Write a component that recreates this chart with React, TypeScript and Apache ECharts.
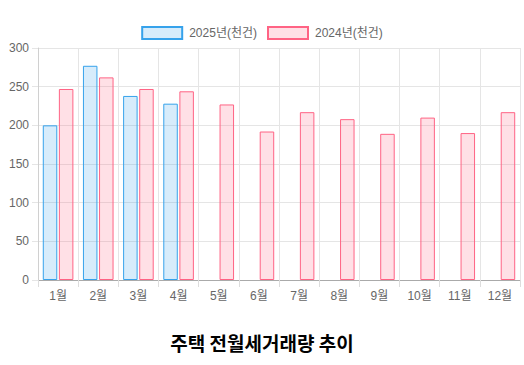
import React, { useEffect, useRef } from "react";
import * as echarts from "echarts";

const months = ["1월", "2월", "3월", "4월", "5월", "6월", "7월", "8월", "9월", "10월", "11월", "12월"];
const values2025: (number | null)[] = [200, 277, 238, 228, null, null, null, null, null, null, null, null];
const values2024: number[] = [247, 262, 247, 244, 227, 192, 217, 208, 189, 210, 190, 217];
const seriesNames = ["2025년(천건)", "2024년(천건)"];
const titleText = "주택 전월세거래량 추이";

const FONT = "'Liberation Sans', 'Noto Sans CJK KR', Arial, sans-serif";

export default function App() {
  const ref = useRef<HTMLDivElement>(null);
  useEffect(() => {
    document.body.style.margin = "0";
    const chart = echarts.init(ref.current!, null, { renderer: "svg" });
    chart.setOption({
      animation: false,
      textStyle: { fontFamily: FONT },
      title: {
        text: titleText,
        left: "center",
        top: 328,
        textStyle: { fontSize: 19, fontWeight: "bold", color: "#000", fontFamily: "'Noto Sans CJK KR', sans-serif" },
      },
      legend: {
        top: 21,
        left: "center",
        itemWidth: 40,
        itemHeight: 12,
        itemGap: 10,
        icon: "rect",
        textStyle: { color: "#666", fontSize: 12, fontFamily: FONT, padding: [0, 0, 0, 2] },
      },
      grid: { left: 38, right: 4, top: 48, bottom: 85, containLabel: false },
      xAxis: {
        type: "category",
        data: months,
        boundaryGap: true,
        axisLine: { show: true, lineStyle: { color: "#aaa" } },
        axisTick: { show: true, length: 7, lineStyle: { color: "#ddd" } },
        axisLabel: { color: "#666", fontSize: 12, margin: 10 },
        splitLine: { show: true, lineStyle: { color: "#e5e5e5" } },
      },
      yAxis: {
        type: "value",
        min: 0,
        max: 300,
        interval: 50,
        axisLine: { show: true, lineStyle: { color: "#d0d0d0" } },
        axisTick: { show: true, length: 6, lineStyle: { color: "#e5e5e5" } },
        axisLabel: { color: "#666", fontSize: 12, margin: 9 },
        splitLine: { show: true, lineStyle: { color: "#e5e5e5" } },
      },
      series: [
        {
          name: seriesNames[0],
          type: "bar",
          data: values2025,
          barWidth: 14.5,
          barGap: "11%",
          itemStyle: {
            color: "rgba(54,162,235,0.2)",
            borderColor: "rgb(54,162,235)",
            borderWidth: 1,
          },
        },
        {
          name: seriesNames[1],
          type: "bar",
          data: values2024,
          barWidth: 14.5,
          barGap: "11%",
          itemStyle: {
            color: "rgba(255,99,132,0.2)",
            borderColor: "rgb(255,99,132)",
            borderWidth: 1,
          },
        },
      ],
    });
    return () => chart.dispose();
  }, []);
  return <div ref={ref} style={{ width: 524, height: 365 }} />;
}
